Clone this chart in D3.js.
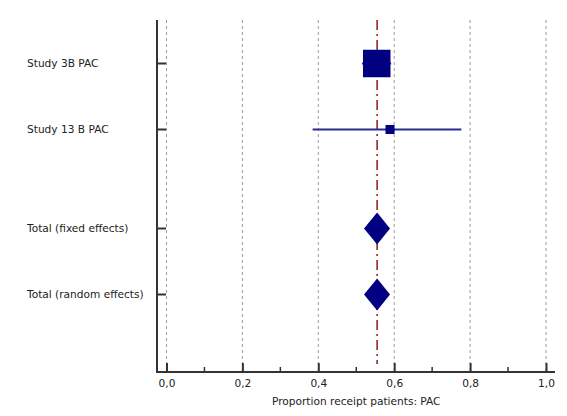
<!DOCTYPE html>
<html><head><meta charset="utf-8">
<script src="https://cdn.jsdelivr.net/npm/d3@7"></script>
<style>body{margin:0;background:#fff}svg{display:block}</style>
</head><body>
<svg id="c" width="567" height="416"></svg>
<script>
const labels = ["Study 3B PAC", "Study 13 B PAC", "Total (fixed effects)", "Total (random effects)"];
const kinds = ["study", "study", "total", "total"];
const estimates = [0.554, 0.589, 0.555, 0.555];
const lowers = [0.515, 0.385, 0.5205, 0.5205];
const uppers = [0.592, 0.777, 0.589, 0.589];
const weights = [90.3, 9.7, 100, 100];
const rowPos = [0, 1, 2.5, 3.5];
const xTicks = [0, 0.2, 0.4, 0.6, 0.8, 1.0];
const xMinor = [0.1, 0.3, 0.5, 0.7, 0.9];
const pooled = 0.555;
const xTitle = "Proportion receipt patients: PAC";

(function () {
const svg = d3.select("#c");
const x = d3.scaleLinear().domain([0, 1]).range([166.5, 546]);
const y = d3.scaleLinear().domain([0, 3.5]).range([63.5, 294.5]);
const side = d3.scaleSqrt().domain([0, 90.3]).range([0, 27.5]);
const plotTop = 20, plotBottom = 372, axisX = 157;
const font = "DejaVu Sans";
const fs = 10.6;

// gridlines
svg.append("g").selectAll("line").data(xTicks).join("line")
  .attr("x1", d => x(d)).attr("x2", d => x(d))
  .attr("y1", plotTop).attr("y2", plotBottom)
  .attr("stroke", "#9a9a9a").attr("stroke-width", 1).attr("stroke-dasharray", "3,3");

// pooled reference line
svg.append("line").attr("x1", x(pooled)).attr("x2", x(pooled))
  .attr("y1", plotTop).attr("y2", 364)
  .attr("stroke", "#8b1a1a").attr("stroke-width", 1.5).attr("stroke-dasharray", "10,4,2,4");

// bottom axis
const xAxis = d3.axisTop(x).tickValues(xTicks).tickSize(9).tickFormat(d => d3.format(".1f")(d).replace(".", ","));
const gx = svg.append("g").attr("transform", `translate(0,${plotBottom})`).call(xAxis);
gx.select(".domain").remove();
gx.selectAll(".tick line").attr("stroke", "#333").attr("stroke-width", 2);
gx.selectAll(".tick text").attr("y", 15).attr("dy", 0).attr("font-family", font).attr("font-size", fs).attr("fill", "#222");
svg.append("g").attr("transform", `translate(0,${plotBottom})`).selectAll("line").data(xMinor).join("line")
  .attr("x1", d => x(d)).attr("x2", d => x(d)).attr("y1", 0).attr("y2", -5)
  .attr("stroke", "#333").attr("stroke-width", 1.5);
svg.append("line").attr("x1", axisX - 1).attr("x2", 555).attr("y1", plotBottom).attr("y2", plotBottom)
  .attr("stroke", "#333").attr("stroke-width", 2);
svg.append("text").attr("x", x(0.5)).attr("y", 405).attr("text-anchor", "middle")
  .attr("font-family", font).attr("font-size", fs).attr("fill", "#222").text(xTitle);

// left axis
svg.append("line").attr("x1", axisX).attr("x2", axisX).attr("y1", plotTop).attr("y2", plotBottom + 1)
  .attr("stroke", "#333").attr("stroke-width", 2);
svg.append("g").selectAll("line").data(rowPos).join("line")
  .attr("x1", axisX).attr("x2", axisX + 9).attr("y1", d => y(d)).attr("y2", d => y(d))
  .attr("stroke", "#333").attr("stroke-width", 2);
svg.append("g").selectAll("text").data(labels).join("text")
  .attr("x", 27).attr("y", (d, i) => y(rowPos[i]) + 3.8)
  .attr("font-family", font).attr("font-size", fs).attr("fill", "#222").text(d => d);

// studies
const idx = d3.range(labels.length);
const studies = idx.filter(i => kinds[i] === "study");
const totals = idx.filter(i => kinds[i] === "total");
svg.append("g").selectAll("line").data(studies).join("line")
  .attr("x1", i => x(lowers[i])).attr("x2", i => x(uppers[i]))
  .attr("y1", i => y(rowPos[i])).attr("y2", i => y(rowPos[i]))
  .attr("stroke", "#2a2a94").attr("stroke-width", 2);
svg.append("g").selectAll("rect").data(studies).join("rect")
  .attr("x", i => x(estimates[i]) - side(weights[i]) / 2)
  .attr("y", i => y(rowPos[i]) - side(weights[i]) / 2)
  .attr("width", i => side(weights[i])).attr("height", i => side(weights[i]))
  .attr("fill", "#000080");
svg.append("g").selectAll("path").data(totals).join("path")
  .attr("d", i => {
    const cy = y(rowPos[i]), h = 16;
    return `M${x(lowers[i])},${cy}L${x(estimates[i])},${cy - h}L${x(uppers[i])},${cy}L${x(estimates[i])},${cy + h}Z`;
  })
  .attr("fill", "#000080");
})();
</script>
</body></html>
